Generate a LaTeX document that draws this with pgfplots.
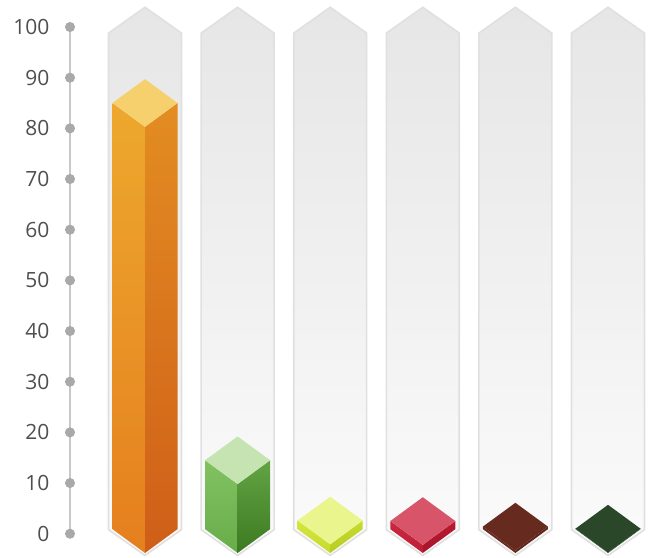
\documentclass[border=0pt]{standalone}
\usepackage{pgfplots}
\pgfplotsset{compat=1.18}
\usepackage{fontspec}
\setmainfont{Open Sans}

% column background and axis greys
\definecolor{colTop}{HTML}{E6E6E6}
\definecolor{colBot}{HTML}{FBFBFB}
\definecolor{colEdge}{HTML}{E0E0E0}
\definecolor{lineGray}{HTML}{C8C8C8}
\definecolor{dotGray}{HTML}{A9A9A9}
\definecolor{labelGray}{HTML}{4F4F4F}
% bar colours: LT/LB left face top/bottom, RT/RB right face, T top face
\definecolor{orLT}{HTML}{EDA82E}\definecolor{orLB}{HTML}{E57F1E}
\definecolor{orRT}{HTML}{E38D22}\definecolor{orRB}{HTML}{CF5E18}
\definecolor{orT}{HTML}{F6D06C}
\definecolor{grLT}{HTML}{82C162}\definecolor{grLB}{HTML}{68AD4A}
\definecolor{grRT}{HTML}{62A444}\definecolor{grRB}{HTML}{3D7A22}
\definecolor{grT}{HTML}{C6E4B2}
\definecolor{yeLT}{HTML}{D4E63E}\definecolor{yeLB}{HTML}{C8DA2C}
\definecolor{yeRT}{HTML}{C6DA30}\definecolor{yeRB}{HTML}{B8CC22}
\definecolor{yeT}{HTML}{EBF58E}
\definecolor{reLT}{HTML}{C9283F}\definecolor{reLB}{HTML}{C01E36}
\definecolor{reRT}{HTML}{B81A30}\definecolor{reRB}{HTML}{A8142A}
\definecolor{reT}{HTML}{D85569}
\definecolor{brLT}{HTML}{6A2B20}\definecolor{brLB}{HTML}{6A2B20}
\definecolor{brRT}{HTML}{5E251B}\definecolor{brRB}{HTML}{5E251B}
\definecolor{brT}{HTML}{662A1F}
\definecolor{dgLT}{HTML}{2B4A2B}\definecolor{dgLB}{HTML}{2B4A2B}
\definecolor{dgRT}{HTML}{253F25}\definecolor{dgRB}{HTML}{253F25}
\definecolor{dgT}{HTML}{2A472A}

% grey hexagonal column behind a bar, #1 = centre
\newcommand{\column}[1]{%
  \pgfmathsetmacro\colL{#1-0.394}\pgfmathsetmacro\colR{#1+0.394}%
  \addplot[draw=colEdge, line width=0.8pt, top color=colTop, bottom color=colBot]
    coordinates {(\colL,98.8) (#1,103.9) (\colR,98.8) (\colR,0.8) (#1,-4.3) (\colL,0.8)} -- cycle;
}
% prism bar, #1 = centre, #2 = value (top edge), #3 = colour prefix
\newcommand{\prism}[3]{%
  \pgfmathsetmacro\barL{#1-0.351}\pgfmathsetmacro\barR{#1+0.351}%
  \pgfmathsetmacro\topD{#2-4.7}\pgfmathsetmacro\topU{#2+4.7}%
  \addplot[draw=none, top color=#3LT, bottom color=#3LB]
    coordinates {(\barL,0.9) (#1,-3.8) (#1,\topD) (\barL,#2)} -- cycle;
  \addplot[draw=none, top color=#3RT, bottom color=#3RB]
    coordinates {(#1,-3.8) (\barR,0.9) (\barR,#2) (#1,\topD)} -- cycle;
  \addplot[draw=none, fill=#3T]
    coordinates {(\barL,#2) (#1,\topU) (\barR,#2) (#1,\topD)} -- cycle;
}

\begin{document}
\begin{tikzpicture}
\begin{axis}[
    scale only axis,
    width=290pt, height=253.5pt,
    xmin=0.19, xmax=6.45,
    ymin=0, ymax=100,
    clip=false,
    axis x line=none,
    axis y line=left,
    y axis line style={-, draw=lineGray, line width=1pt},
    ytick={0,10,...,100},
    ytick style={draw=none},
    yticklabel style={anchor=east, inner sep=0pt, xshift=-8pt,
        text=labelGray, font=\fontsize{10.5}{12}\selectfont,
        /pgf/number format/assume math mode=true},
]
% page extent
\addplot[draw=none] coordinates {(-0.566,105.33) (6.486,-4.73)};

\column{1}\column{2}\column{3}\column{4}\column{5}\column{6}

\prism{1}{85}{or}
\prism{2}{14.5}{gr}
\prism{3}{2.6}{ye}
\prism{4}{2.5}{re}
\prism{5}{1.4}{br}
\prism{6}{1.0}{dg}

% tick dots on the axis line
\addplot[only marks, mark=*, mark size=2.3pt, color=dotGray]
  coordinates {(0.19,0) (0.19,10) (0.19,20) (0.19,30) (0.19,40) (0.19,50)
               (0.19,60) (0.19,70) (0.19,80) (0.19,90) (0.19,100)};
\end{axis}
\end{tikzpicture}
\end{document}
